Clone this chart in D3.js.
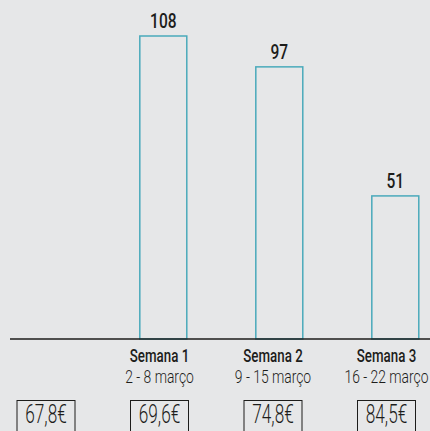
<!DOCTYPE html>
<meta charset="utf-8">
<style>
body { margin: 0; background: #e6e7e8; }
svg { display: block; font-family: Roboto, "DejaVu Sans Condensed", sans-serif; }
.bar { fill: none; stroke: #4aaabb; stroke-width: 1.5; }
.axis-line { stroke: #1d1d1b; stroke-width: 1.5; }
.value { font-size: 21px; font-weight: 500; fill: #1d1d1b; }
.week { font-size: 18px; font-weight: 500; fill: #1d1d1b; }
.dates { font-size: 18px; font-weight: 300; fill: #1d1d1b; }
.price-box { fill: none; stroke: #1d1d1b; stroke-width: 1; }
.price { font-size: 25px; font-weight: 300; fill: #1d1d1b; }
</style>
<svg width="430" height="431" class="top"></svg>
<script src="https://d3js.org/d3.v7.min.js"></script>
<script>

// data
var categories = ["antes", "Semana 1", "Semana 2", "Semana 3"];
var dates = ["", "2 - 8 março", "9 - 15 março", "16 - 22 março"];
var values = [null, 108, 97, 51];
var prices = ["67,8€", "69,6€", "74,8€", "84,5€"];

var svg = d3.select(".top"),
    baseline = 339;

// bars sit a little to the right of the labels in the original
var x = d3.scaleBand()
    .domain(categories)
    .range([-10.7, 453.3])
    .paddingInner(0.595)
    .paddingOuter(0.2975);

var xl = d3.scalePoint()
    .domain(categories)
    .range([46, 386.5]);

var y = d3.scaleLinear()
    .domain([0, 108])
    .range([baseline, 36]);

var rows = categories.map(function(c, i) {
  return {cat: c, date: dates[i], value: values[i], price: prices[i]};
});

var bars = rows.filter(function(d) { return d.value != null; });

svg.selectAll(".bar")
  .data(bars)
  .enter().append("rect")
    .attr("class", "bar")
    .attr("x", function(d) { return x(d.cat); })
    .attr("y", function(d) { return y(d.value); })
    .attr("width", x.bandwidth())
    .attr("height", function(d) { return baseline - y(d.value); });

// the original uses a condensed face, so squeeze the text horizontally
svg.selectAll(".value")
  .data(bars)
  .enter().append("text")
    .attr("class", "value")
    .attr("text-anchor", "middle")
    .attr("transform", function(d) {
      return "translate(" + (x(d.cat) + x.bandwidth() / 2) + "," + (y(d.value) - 8) + ") scale(0.74,1)";
    })
    .text(function(d) { return d.value; });

svg.append("line")
    .attr("class", "axis-line")
    .attr("x1", 10)
    .attr("x2", 430)
    .attr("y1", baseline)
    .attr("y2", baseline);

svg.selectAll(".week")
  .data(bars)
  .enter().append("text")
    .attr("class", "week")
    .attr("text-anchor", "middle")
    .attr("transform", function(d) { return "translate(" + xl(d.cat) + ",362) scale(0.74,1)"; })
    .text(function(d) { return d.cat; });

svg.selectAll(".dates")
  .data(bars)
  .enter().append("text")
    .attr("class", "dates")
    .attr("text-anchor", "middle")
    .attr("transform", function(d) { return "translate(" + xl(d.cat) + ",383) scale(0.77,1)"; })
    .text(function(d) { return d.date; });

var pw = 58;

svg.selectAll(".price-box")
  .data(rows)
  .enter().append("rect")
    .attr("class", "price-box")
    .attr("x", function(d) { return xl(d.cat) - pw / 2; })
    .attr("y", 400.5)
    .attr("width", pw)
    .attr("height", 40);

svg.selectAll(".price")
  .data(rows)
  .enter().append("text")
    .attr("class", "price")
    .attr("text-anchor", "middle")
    .attr("transform", function(d) { return "translate(" + xl(d.cat) + ",423) scale(0.69,1)"; })
    .text(function(d) { return d.price; });

</script>
